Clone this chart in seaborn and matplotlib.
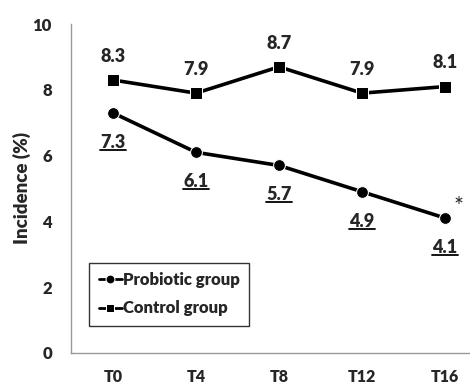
import pandas as pd
import matplotlib
matplotlib.use("Agg")
import matplotlib.pyplot as plt
import seaborn as sns
from matplotlib.lines import Line2D

# Dados
tempos = ["T0", "T4", "T8", "T12", "T16"]
probiotico = [7.3, 6.1, 5.7, 4.9, 4.1]
controle = [8.3, 7.9, 8.7, 7.9, 8.1]

sns.set_style("white")
plt.rcParams["font.family"] = ["Lato", "DejaVu Sans"]
plt.rcParams["font.weight"] = "heavy"

df = pd.DataFrame({
    "tempo": tempos * 2,
    "valor": probiotico + controle,
    "grupo": ["Probiotic group"] * 5 + ["Control group"] * 5,
})
df["x"] = list(range(len(tempos))) * 2

fig = plt.figure(figsize=(4.7, 3.89), dpi=100)
ax = fig.add_axes([0.152, 0.093, 0.848, 0.845])

sns.lineplot(data=df, x="x", y="valor", style="grupo", markers={"Probiotic group": "o", "Control group": "s"},
             dashes=False, color="black", lw=2.6, markersize=8.5, ax=ax)

# rótulos de valores
textos_prob = []
for i, v in enumerate(probiotico):
    t = ax.annotate(f"{v}", (i, v), xytext=(0, -15), textcoords="offset points",
                    ha="center", va="top", fontsize=13, fontweight="heavy")
    textos_prob.append(t)
for i, v in enumerate(controle):
    ax.annotate(f"{v}", (i, v), xytext=(0, 11), textcoords="offset points",
                ha="center", va="bottom", fontsize=13, fontweight="heavy")
ax.annotate("*", (4, probiotico[-1]), xytext=(6, 1), textcoords="offset points",
            ha="left", va="bottom", fontsize=17, fontweight="normal")

ax.set_xlim(-0.5, 4.3)
ax.set_ylim(0, 10)
ax.set_xticks(range(len(tempos)))
ax.set_xticklabels(tempos)
ax.set_yticks([0, 2, 4, 6, 8, 10])
ax.tick_params(axis="both", length=0, labelsize=12)
ax.tick_params(axis="x", pad=12, labelsize=11.5)
ax.tick_params(axis="y", pad=14)
ax.set_xlabel("")
ax.set_ylabel("Incidence (%)", fontsize=13.5, fontweight="heavy", labelpad=1)

sns.despine(ax=ax, top=True, right=True)
for s in ["left", "bottom"]:
    ax.spines[s].set_color("#999999")
    ax.spines[s].set_linewidth(1)

leg = ax.legend(loc="lower left", bbox_to_anchor=(0.045, 0.083), frameon=True, fancybox=False,
                edgecolor="black", fontsize=12, handlelength=1.4, handletextpad=0.05,
                borderpad=0.55, labelspacing=0.75, borderaxespad=0, markerscale=0.75)
leg.get_frame().set_linewidth(1)
for h in leg.get_lines():
    h.set_linewidth(2)

# sublinhado dos rótulos do grupo probiótico
fig.canvas.draw()
r = fig.canvas.get_renderer()
W, H = fig.bbox.width, fig.bbox.height
for t in textos_prob:
    bb = t.get_window_extent(r)
    y = (bb.y0 + 1) / H
    fig.add_artist(Line2D([bb.x0 / W, bb.x1 / W], [y, y], color="black", lw=1.3))

fig.savefig("out.png", dpi=100)
